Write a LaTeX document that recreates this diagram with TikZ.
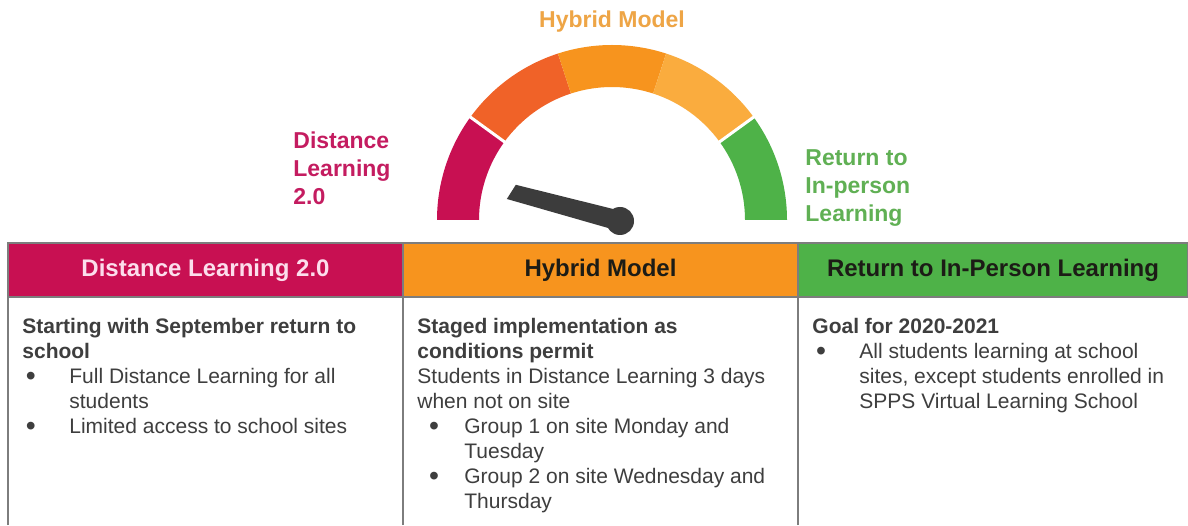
\documentclass[tikz,border=0pt]{standalone}
\usepackage{fontspec}
\setmainfont{Liberation Sans}
\usetikzlibrary{calc}

\definecolor{dlpink}{RGB}{200,16,82}
\definecolor{gaugered}{RGB}{240,98,40}
\definecolor{hyorange}{RGB}{247,148,30}
\definecolor{lightorange}{RGB}{250,172,62}
\definecolor{ipgreen}{RGB}{78,178,72}
\definecolor{needlegray}{RGB}{60,60,60}
\definecolor{bodygray}{RGB}{62,62,62}
\definecolor{gridgray}{RGB}{125,125,125}
\definecolor{dllabel}{RGB}{196,28,96}
\definecolor{hylabel}{RGB}{238,165,70}
\definecolor{iplabel}{RGB}{96,176,84}
\definecolor{headpink}{RGB}{252,222,236}
\definecolor{headdark}{RGB}{28,28,22}

% bullet: indent, then width of the whole box
\newcommand{\bulletat}[2]{\makebox[#2][l]{\hspace*{#1}\raisebox{-0.8pt}{\scalebox{1.35}{\textbullet}}}}

\tikzset{
  gaugelabel/.style={font=\fontsize{11.5}{14}\selectfont\bfseries, align=left, inner sep=0pt},
  headcell/.style={draw=gridgray, line width=0.75pt, minimum height=27pt, inner sep=0pt,
    font=\fontsize{12}{14}\selectfont\bfseries},
  bodytext/.style={font=\fontsize{10.5}{12.5}\selectfont, text=bodygray, align=left, inner sep=0pt}
}

\begin{document}
\begin{tikzpicture}[x=0.5pt,y=0.5pt]
		\useasboundingbox[fill=white] (0,0) rectangle (1188,525);
		
		% Gauge with five coloured segments
		\coordinate (gc) at (612,305);
		\foreach \a/\col in {180/dlpink,144/gaugered,108/hyorange,72/lightorange,36/ipgreen}{
			\fill[\col] ($(gc)+(\a:175)$) arc[start angle=\a, delta angle=-36, radius=175]
				-- ($(gc)+(\a-36:133)$) arc[start angle=\a-36, delta angle=36, radius=133] -- cycle;
		}
		\draw[white, line width=1.5pt] ($(gc)+(144:130)$) -- ($(gc)+(144:178)$);
		\draw[white, line width=1.5pt] ($(gc)+(36:130)$) -- ($(gc)+(36:178)$);
		
		% Needle
		\coordinate (pv) at (620,304);
		\fill[needlegray] ($(pv)+(75:10)$) -- ($(pv)+(165:110)+(75:8)$)
			-- ($(pv)+(165:115)+(255:8)$) -- ($(pv)+(255:10)$) -- cycle;
		\fill[needlegray] (pv) circle (14);
		
		% Gauge labels
		\node[gaugelabel, text=hylabel] (hylab) at (612,503) {Hybrid Model};
		\node[gaugelabel, text=dllabel, anchor=north west] (dllab) at (293,394) {Distance\\Learning\\2.0};
		\node[gaugelabel, text=iplabel, anchor=north west] (iplab) at (805,376) {Return to\\In-person\\Learning};
		
		% Table headers
		\node[headcell, fill=dlpink, text=headpink, minimum width=197.5pt] (head1) at (205.5,255) {Distance Learning 2.0};
		\node[headcell, fill=hyorange, text=headdark, minimum width=197.5pt] (head2) at (600.5,255) {Hybrid Model};
		\node[headcell, fill=ipgreen, text=headdark, minimum width=195pt] (head3) at (993,255) {Return to In-Person Learning};
		
		% Table body
		\draw[gridgray, line width=0.75pt] (8,0) -- (8,228) -- (1188,228);
		\draw[gridgray, line width=0.75pt] (403,0) -- (403,228);
		\draw[gridgray, line width=0.75pt] (798,0) -- (798,228);
		
		\node[bodytext, anchor=north west] (body1) at (22,207) {%
			\textbf{Starting with September return to}\\
			\textbf{school}\\
			\bulletat{1.8pt}{23.5pt}Full Distance Learning for all\\
			\hspace*{23.5pt}students\\
			\bulletat{1.8pt}{23.5pt}Limited access to school sites};
		\node[bodytext, anchor=north west] (body2) at (417,207) {%
			\textbf{Staged implementation as}\\
			\textbf{conditions permit}\\
			Students in Distance Learning 3 days\\
			when not on site\\
			\bulletat{5.8pt}{23.5pt}Group 1 on site Monday and\\
			\hspace*{23.5pt}Tuesday\\
			\bulletat{5.8pt}{23.5pt}Group 2 on site Wednesday and\\
			\hspace*{23.5pt}Thursday};
		\node[bodytext, anchor=north west] (body3) at (812,207) {%
			\textbf{Goal for 2020-2021}\\
			\bulletat{1.8pt}{23.5pt}All students learning at school\\
			\hspace*{23.5pt}sites, except students enrolled in\\
			\hspace*{23.5pt}SPPS Virtual Learning School};
	\end{tikzpicture}
\end{document}
